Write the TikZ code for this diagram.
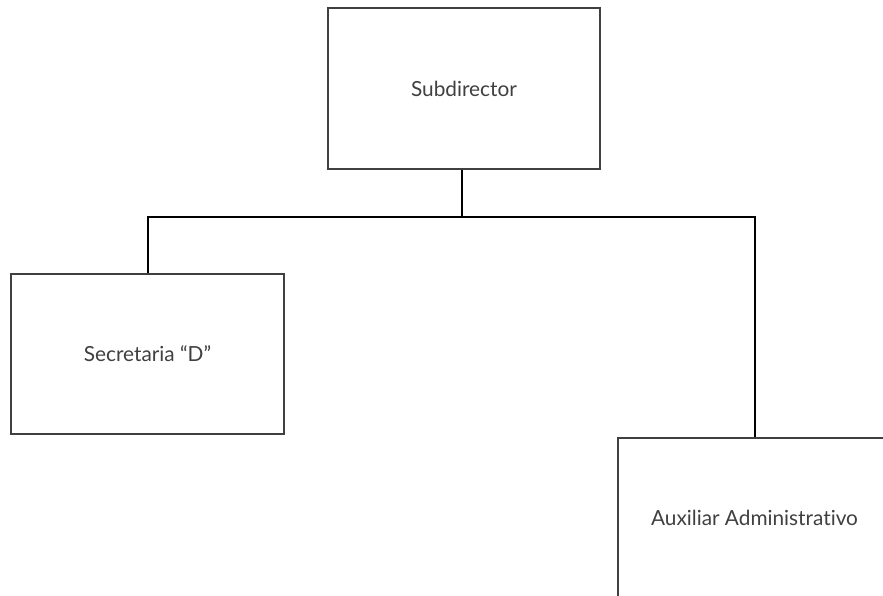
\documentclass[tikz,border=0pt]{standalone}
\usepackage{fontspec}
\setmainfont{Lato}[Ligatures=NoCommon]
\begin{document}
\begin{tikzpicture}[x=1pt,y=1pt,
  orgbox/.style={draw=black!75, line width=1.2pt, fill=white, text=black!75, font=\fontsize{20.8}{23}\selectfont, inner sep=0pt},
  link/.style={draw=black, line width=2pt}]
\useasboundingbox (0,0) rectangle (883,-596);
\clip (0,0) rectangle (883,-596);
\fill[white] (0,0) rectangle (883,-596);
\node[orgbox, minimum width=272pt, minimum height=161pt] (sub) at (464,-88.5) {Subdirector};
\node[orgbox, minimum width=273pt, minimum height=160pt] (sec) at (147.5,-354) {Secretaria “D”};
\node[orgbox, minimum width=273pt, minimum height=160pt] (aux) at (754.5,-518) {Auxiliar Administrativo};
\coordinate (bl) at (148,-217);
\coordinate (bm) at (462,-217);
\coordinate (br) at (755,-217);
\draw[link] (bm |- sub.south) -- (bm);
\draw[link] (bl |- sec.north) -- (bl) -- (br) -- (br |- aux.north);
\end{tikzpicture}
\end{document}
